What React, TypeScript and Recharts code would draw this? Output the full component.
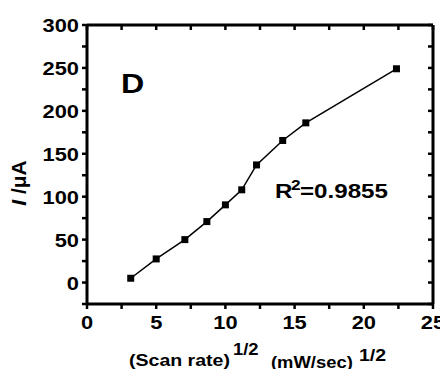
import { LineChart, Line, XAxis, YAxis } from 'recharts';

const scanRateRoot = [3.16, 5, 7.07, 8.66, 10, 11.18, 12.25, 14.14, 15.81, 22.36];
const currentUA = [5, 27.5, 50, 71, 90.5, 108, 137, 165.5, 186, 249];
const xTicks = [0, 2.5, 5, 7.5, 10, 12.5, 15, 17.5, 20, 22.5, 25];
const yTicks = [-25, 0, 25, 50, 75, 100, 125, 150, 175, 200, 225, 250, 275, 300];

const data = scanRateRoot.map((x, i) => ({ x, y: currentUA[i] }));

const FONT = '"Liberation Sans", Arial, sans-serif';
const SX = 1.15; // the original figure's text is a bit wide
const INK = '#000';

const T = ({ x, y, size, children }: any) => (
  <text
    transform={`translate(${x},${y}) scale(${SX},1)`}
    fontFamily={FONT}
    fontWeight="bold"
    fontSize={size}
    fill="#000"
  >
    {children}
  </text>
);

// tickSize/tickMargin are 0 so x,y sit right on the axis line
const BottomTick = (props: any) => {
  const { x, y, payload } = props;
  const v = payload.value;
  return (
    <g>
      <line x1={x} x2={x} y1={y} y2={y + 5} stroke={INK} strokeWidth={2.5} />
      {v % 5 === 0 && (
        <text
          transform={`translate(${x},${y + 25}) scale(${SX},1)`}
          textAnchor="middle"
          fontFamily={FONT}
          fontWeight="bold"
          fontSize={19}
          fill="#000"
        >
          {v}
        </text>
      )}
    </g>
  );
};

const LeftTick = (props: any) => {
  const { x, y, payload } = props;
  const v = payload.value;
  return (
    <g>
      <line x1={x} x2={x - 5} y1={y} y2={y} stroke={INK} strokeWidth={2.5} />
      {v % 50 === 0 && (
        <text
          transform={`translate(${x - 8},${y + 7}) scale(${SX},1)`}
          textAnchor="end"
          fontFamily={FONT}
          fontWeight="bold"
          fontSize={19}
          fill="#000"
        >
          {v}
        </text>
      )}
    </g>
  );
};

const TopTick = (props: any) => {
  const { x, y } = props;
  return <line x1={x} x2={x} y1={y} y2={y + 5} stroke={INK} strokeWidth={2.5} />;
};

const RightTick = (props: any) => {
  const { x, y } = props;
  return <line x1={x} x2={x - 5} y1={y} y2={y} stroke={INK} strokeWidth={2.5} />;
};

const SquareDot = (props: any) => {
  const { cx, cy, index } = props;
  return <rect key={`d-${index}`} x={cx - 3.5} y={cy - 3.5} width={7} height={7} fill="#000" />;
};

// x title drawn as the bottom axis label
const XTitle = () => (
  <g>
    <T x={129} y={366} size={17}>(Scan rate)</T>
    <T x={233} y={355} size={16}>1/2</T>
    <T x={271} y={368} size={16}>(mW/sec)</T>
    <T x={359} y={361} size={17}>1/2</T>
  </g>
);

// y title plus the in-plot annotations, drawn as the left axis label
const YTitle = () => (
  <g>
    <text
      transform="translate(26,183) rotate(-90)"
      textAnchor="middle"
      fontFamily={FONT}
      fontWeight="bold"
      fontSize={21}
      fill="#000"
    >
      <tspan fontStyle="italic">I</tspan> /μA
    </text>
    <T x={121} y={93} size={28}>D</T>
    <T x={275} y={198} size={21}>R</T>
    <T x={291} y={190} size={15}>2</T>
    <T x={300} y={198} size={21}>=0.9855</T>
  </g>
);

const axisStyle = { stroke: INK, strokeWidth: 3 };

export default function App() {
  return (
    <div style={{ margin: -8, width: 448, height: 377 }}>
      <LineChart width={448} height={377} data={data} margin={{ top: 24, right: 14, bottom: 0, left: 0 }}>
        <XAxis
          xAxisId="b"
          type="number"
          dataKey="x"
          domain={[0, 25]}
          ticks={xTicks}
          interval={0}
          height={73}
          tickSize={0}
          tickMargin={0}
          axisLine={axisStyle}
          tickLine={false}
          tick={BottomTick}
          label={{ content: XTitle }}
        />
        <XAxis
          xAxisId="t"
          orientation="top"
          type="number"
          dataKey="x"
          domain={[0, 25]}
          ticks={xTicks}
          interval={0}
          height={1}
          tickSize={0}
          tickMargin={0}
          axisLine={axisStyle}
          tickLine={false}
          tick={TopTick}
        />
        <YAxis
          yAxisId="l"
          type="number"
          domain={[-25, 300]}
          ticks={yTicks}
          interval={0}
          width={87}
          tickSize={0}
          tickMargin={0}
          axisLine={axisStyle}
          tickLine={false}
          tick={LeftTick}
          label={{ content: YTitle }}
        />
        <YAxis
          yAxisId="r"
          orientation="right"
          type="number"
          domain={[-25, 300]}
          ticks={yTicks}
          interval={0}
          width={1}
          tickSize={0}
          tickMargin={0}
          axisLine={axisStyle}
          tickLine={false}
          tick={RightTick}
        />
        {/* invisible twin so the top/right frame axes have a series */}
        <Line
          xAxisId="t"
          yAxisId="r"
          dataKey="y"
          stroke="none"
          dot={false}
          activeDot={false}
          legendType="none"
          isAnimationActive={false}
        />
        <Line
          xAxisId="b"
          yAxisId="l"
          type="linear"
          dataKey="y"
          stroke="#000"
          strokeWidth={1.5}
          dot={SquareDot}
          isAnimationActive={false}
        />
      </LineChart>
    </div>
  );
}
